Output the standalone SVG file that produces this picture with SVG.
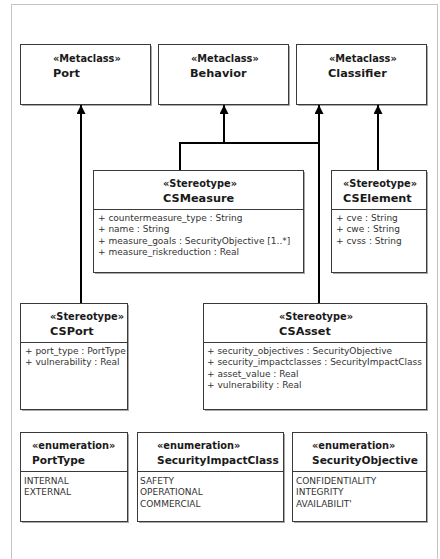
<svg xmlns="http://www.w3.org/2000/svg" width="440" height="559" viewBox="0 0 440 559">
  <style>
    .frame { fill: #ffffff; stroke: #c4c4c4; stroke-width: 1; }
    .box { fill: #ffffff; stroke: #3a3a3a; stroke-width: 1; }
    .shadow { fill: #a8a8a8; }
    .div { stroke: #3a3a3a; stroke-width: 1; }
    .st { font-family: "DejaVu Sans", Verdana, sans-serif; font-weight: bold; font-size: 9.8px; fill: #1a1a1a; }
    .nm { font-family: "DejaVu Sans", Verdana, sans-serif; font-weight: bold; font-size: 11.3px; fill: #1a1a1a; }
    .en { font-family: "DejaVu Sans", Verdana, sans-serif; font-weight: bold; font-size: 10.6px; fill: #1a1a1a; }
    .at { font-family: "DejaVu Sans", Verdana, sans-serif; font-size: 9px; fill: #333333; }
    .conn { fill: none; stroke: #000000; stroke-width: 2; }
  </style>
  <defs>
    <marker id="gen" viewBox="0 0 10 10" refX="10" refY="5" markerWidth="4.5" markerHeight="4.5" orient="auto" markerUnits="strokeWidth">
      <path d="M0,0 L10,5 L0,10 Z" fill="#000000"/>
    </marker>
  </defs>

  <rect class="frame" x="11.5" y="4.5" width="426" height="560"/>

  <!-- metaclasses -->
  <g id="Port">
    <rect class="shadow" x="22" y="46" width="130" height="60"/>
    <rect class="box" x="20.5" y="44.5" width="130" height="60"/>
    <text class="st" x="53" y="62">«Metaclass»</text>
    <text class="nm" x="53" y="77">Port</text>
  </g>
  <g id="Behavior">
    <rect class="shadow" x="160" y="46" width="130" height="60"/>
    <rect class="box" x="158.5" y="44.5" width="130" height="60"/>
    <text class="st" x="191" y="62">«Metaclass»</text>
    <text class="nm" x="190" y="77">Behavior</text>
  </g>
  <g id="Classifier">
    <rect class="shadow" x="298" y="46" width="130" height="60"/>
    <rect class="box" x="296.5" y="44.5" width="130" height="60"/>
    <text class="st" x="329" y="62">«Metaclass»</text>
    <text class="nm" x="328" y="77">Classifier</text>
  </g>

  <!-- stereotypes -->
  <g id="CSMeasure">
    <rect class="shadow" x="95" y="172" width="210" height="102"/>
    <rect class="box" x="93.5" y="170.5" width="210" height="102"/>
    <text class="st" x="163" y="187">«Stereotype»</text>
    <text class="nm" x="163" y="202">CSMeasure</text>
    <line class="div" x1="93.5" y1="209.5" x2="303.5" y2="209.5"/>
    <text class="at" x="98" y="220.5">+ countermeasure_type : String</text>
    <text class="at" x="98" y="232">+ name : String</text>
    <text class="at" x="98" y="243.5">+ measure_goals : SecurityObjective [1..*]</text>
    <text class="at" x="98" y="255">+ measure_riskreduction : Real</text>
  </g>
  <g id="CSElement">
    <rect class="shadow" x="333" y="172" width="95" height="102"/>
    <rect class="box" x="331.5" y="170.5" width="95" height="102"/>
    <text class="st" x="343" y="187">«Stereotype»</text>
    <text class="nm" x="343" y="202">CSElement</text>
    <line class="div" x1="331.5" y1="209.5" x2="426.5" y2="209.5"/>
    <text class="at" x="336" y="220.5">+ cve : String</text>
    <text class="at" x="336" y="232">+ cwe : String</text>
    <text class="at" x="336" y="243.5">+ cvss : String</text>
  </g>
  <g id="CSPort">
    <rect class="shadow" x="22" y="305" width="107" height="106"/>
    <rect class="box" x="20.5" y="303.5" width="107" height="106"/>
    <text class="st" x="50" y="320">«Stereotype»</text>
    <text class="nm" x="50" y="335">CSPort</text>
    <line class="div" x1="20.5" y1="342.5" x2="127.5" y2="342.5"/>
    <text class="at" x="25" y="353.5">+ port_type : PortType</text>
    <text class="at" x="25" y="365">+ vulnerability : Real</text>
  </g>
  <g id="CSAsset">
    <rect class="shadow" x="205" y="305" width="223" height="106"/>
    <rect class="box" x="203.5" y="303.5" width="223" height="106"/>
    <text class="st" x="279" y="320">«Stereotype»</text>
    <text class="nm" x="279" y="335">CSAsset</text>
    <line class="div" x1="203.5" y1="342.5" x2="426.5" y2="342.5"/>
    <text class="at" x="207" y="353.5">+ security_objectives : SecurityObjective</text>
    <text class="at" x="207" y="365">+ security_impactclasses : SecurityImpactClass</text>
    <text class="at" x="207" y="376.5">+ asset_value : Real</text>
    <text class="at" x="207" y="388">+ vulnerability : Real</text>
  </g>

  <!-- enumerations -->
  <g id="PortType">
    <rect class="shadow" x="22" y="434" width="107" height="89"/>
    <rect class="box" x="20.5" y="432.5" width="107" height="89"/>
    <text class="st" x="32" y="449">«enumeration»</text>
    <text class="en" x="32" y="464">PortType</text>
    <line class="div" x1="20.5" y1="471.5" x2="127.5" y2="471.5"/>
    <text class="at" x="24" y="483.5">INTERNAL</text>
    <text class="at" x="24" y="495">EXTERNAL</text>
  </g>
  <g id="SecurityImpactClass">
    <rect class="shadow" x="139" y="434" width="146" height="89"/>
    <rect class="box" x="137.5" y="432.5" width="146" height="89"/>
    <text class="st" x="157" y="449">«enumeration»</text>
    <text class="en" x="157" y="464">SecurityImpactClass</text>
    <line class="div" x1="137.5" y1="471.5" x2="283.5" y2="471.5"/>
    <text class="at" x="140" y="483.5">SAFETY</text>
    <text class="at" x="140" y="495">OPERATIONAL</text>
    <text class="at" x="140" y="506.5">COMMERCIAL</text>
  </g>
  <g id="SecurityObjective">
    <rect class="shadow" x="294" y="434" width="134" height="89"/>
    <rect class="box" x="292.5" y="432.5" width="134" height="89"/>
    <text class="st" x="312" y="449">«enumeration»</text>
    <text class="en" x="312" y="464">SecurityObjective</text>
    <line class="div" x1="292.5" y1="471.5" x2="426.5" y2="471.5"/>
    <text class="at" x="296" y="483.5">CONFIDENTIALITY</text>
    <text class="at" x="296" y="495">INTEGRITY</text>
    <text class="at" x="296" y="506.5">AVAILABILIT'</text>
  </g>

  <!-- generalizations -->
  <g id="connectors">
    <line class="conn" x1="81" y1="303" x2="81" y2="105" marker-end="url(#gen)"/>
    <polyline class="conn" points="180,170 180,143 320,143"/>
    <line class="conn" x1="224" y1="143" x2="224" y2="105" marker-end="url(#gen)"/>
    <line class="conn" x1="319" y1="303" x2="319" y2="105" marker-end="url(#gen)"/>
    <line class="conn" x1="378" y1="170" x2="378" y2="105" marker-end="url(#gen)"/>
  </g>
</svg>
